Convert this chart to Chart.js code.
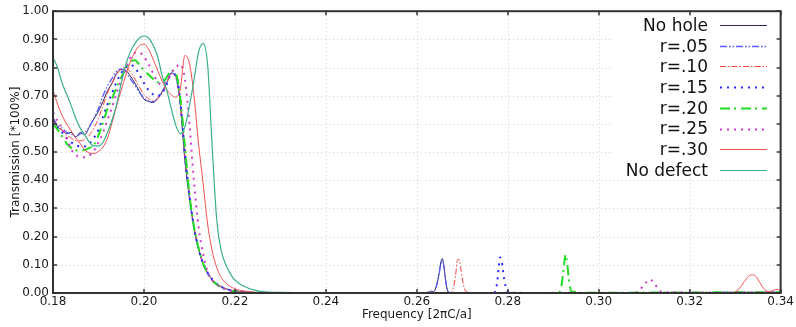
<!DOCTYPE html>
<html>
<head>
<meta charset="utf-8">
<script src="https://cdn.jsdelivr.net/npm/chart.js@4.4.1/dist/chart.umd.min.js"></script>
<style>
html,body{margin:0;padding:0;background:#fff;}
#c{display:block;}
</style>
</head>
<body>
<canvas id="c" width="796" height="327"></canvas>
<script>
// ---------- DATA ----------
const seriesLabels = ['No hole','r=.05','r=.10','r=.15','r=.20','r=.25','r=.30','No defect'];

const xTickValues = [0.18,0.20,0.22,0.24,0.26,0.28,0.30,0.32,0.34];
const xTickLabels = ['0.18','0.20','0.22','0.24','0.26','0.28','0.30','0.32','0.34'];
const yTickValues = [0,0.1,0.2,0.3,0.4,0.5,0.6,0.7,0.8,0.9,1.0];
const yTickLabels = ['0.00','0.10','0.20','0.30','0.40','0.50','0.60','0.70','0.80','0.90','1.00'];

// shared frequency grid for the band-edge region
const freqMain = [0.180,0.181,0.182,0.183,0.184,0.185,0.186,0.187,0.188,0.189,
                  0.190,0.191,0.192,0.193,0.194,0.195,0.196,0.197,0.198,0.199,
                  0.200,0.201,0.202,0.203,0.204,0.205,0.206,0.207,0.208,0.209,
                  0.210,0.211,0.212,0.213,0.214,0.215,0.216,0.217,0.218,0.219,
                  0.220,0.221,0.222,0.223,0.224,0.225,0.226];

const tNoHole  = [0.625,0.590,0.578,0.565,0.570,0.553,0.570,0.562,0.590,0.618,
                  0.645,0.680,0.718,0.745,0.780,0.793,0.790,0.770,0.745,0.715,
                  0.688,0.680,0.676,0.690,0.715,0.745,0.780,0.770,0.670,0.470,
                  0.340,0.230,0.155,0.104,0.070,0.048,0.032,0.022,0.015,0.010,
                  0.007,0.005,0.003,0.002,0.001,0.001,0.000];
const tR05     = [0.620,0.595,0.585,0.570,0.565,0.555,0.565,0.570,0.590,0.620,
                  0.655,0.700,0.735,0.762,0.788,0.795,0.782,0.760,0.737,0.712,
                  0.692,0.682,0.678,0.690,0.712,0.748,0.780,0.765,0.665,0.480,
                  0.340,0.232,0.157,0.105,0.071,0.048,0.032,0.022,0.015,0.010,
                  0.007,0.005,0.003,0.002,0.001,0.001,0.000];
const tR10     = [0.615,0.590,0.578,0.560,0.550,0.540,0.540,0.545,0.560,0.585,
                  0.620,0.665,0.710,0.745,0.775,0.795,0.800,0.785,0.760,0.730,
                  0.705,0.690,0.682,0.690,0.710,0.745,0.778,0.770,0.670,0.490,
                  0.345,0.235,0.158,0.106,0.072,0.049,0.033,0.022,0.015,0.010,
                  0.007,0.005,0.003,0.002,0.001,0.001,0.000];
const tR15     = [0.610,0.585,0.570,0.550,0.535,0.525,0.520,0.520,0.530,0.550,
                  0.580,0.625,0.670,0.710,0.750,0.780,0.800,0.810,0.800,0.775,
                  0.745,0.720,0.705,0.700,0.710,0.740,0.775,0.775,0.680,0.500,
                  0.345,0.235,0.158,0.106,0.072,0.049,0.033,0.022,0.015,0.010,
                  0.007,0.005,0.003,0.002,0.001,0.001,0.000];
const tR20     = [0.600,0.580,0.555,0.530,0.515,0.507,0.505,0.508,0.515,0.525,
                  0.560,0.605,0.655,0.690,0.730,0.765,0.795,0.820,0.826,0.810,
                  0.790,0.775,0.760,0.748,0.748,0.765,0.790,0.780,0.690,0.520,
                  0.350,0.235,0.160,0.105,0.070,0.045,0.030,0.020,0.012,0.008,
                  0.005,0.004,0.003,0.002,0.001,0.001,0.000];
const tR25     = [0.640,0.610,0.585,0.550,0.510,0.490,0.483,0.482,0.488,0.505,
                  0.535,0.570,0.615,0.660,0.710,0.755,0.795,0.835,0.852,0.853,
                  0.838,0.812,0.780,0.750,0.738,0.755,0.780,0.800,0.812,0.760,
                  0.600,0.395,0.235,0.140,0.075,0.045,0.030,0.020,0.013,0.008,
                  0.005,0.004,0.003,0.002,0.001,0.001,0.000];
const tR30     = [0.720,0.670,0.630,0.600,0.575,0.550,0.530,0.507,0.497,0.495,
                  0.503,0.518,0.550,0.605,0.665,0.720,0.772,0.820,0.855,0.878,
                  0.883,0.865,0.830,0.790,0.752,0.722,0.703,0.695,0.725,0.843,
                  0.815,0.700,0.530,0.390,0.245,0.150,0.090,0.055,0.035,0.023,
                  0.015,0.010,0.007,0.005,0.003,0.002,0.001];
const tNoDefect= [0.835,0.800,0.745,0.705,0.665,0.620,0.585,0.560,0.535,0.522,
                  0.522,0.535,0.570,0.615,0.670,0.745,0.810,0.855,0.885,0.905,
                  0.912,0.905,0.880,0.840,0.770,0.720,0.655,0.595,0.565,0.590,
                  0.665,0.755,0.855,0.885,0.810,0.520,0.260,0.150,0.100,0.068,
                  0.046,0.033,0.024,0.017,0.012,0.008,0.005];

// defect-mode peaks (tails beyond the band edge)
const fTailNoHole = [0.230,0.260,0.2628,0.2632,0.2636,0.2642,0.2648,0.2653,0.2656,0.2659,0.2663,0.2667,0.2672,0.270,0.300,0.340];
const tTailNoHole = [0.000,0.000,0.004,0.007,0.004,0.020,0.060,0.110,0.122,0.100,0.050,0.012,0.002,0.000,0.001,0.002];
const fTailR05 = [0.230,0.260,0.2635,0.2642,0.2648,0.2653,0.2656,0.2659,0.2663,0.2667,0.2672,0.270,0.300,0.340];
const tTailR05 = [0.000,0.000,0.004,0.018,0.058,0.105,0.118,0.098,0.048,0.012,0.002,0.000,0.001,0.002];
const fTailR10 = [0.230,0.265,0.2675,0.2680,0.2685,0.2689,0.2692,0.2696,0.2700,0.2705,0.2710,0.275,0.340];
const tTailR10 = [0.000,0.000,0.002,0.015,0.060,0.115,0.120,0.095,0.050,0.015,0.003,0.000,0.001];
const fTailR15 = [0.230,0.275,0.2770,0.2776,0.2780,0.2783,0.2787,0.2792,0.2798,0.2805,0.290,0.340];
const tTailR15 = [0.000,0.000,0.002,0.030,0.090,0.126,0.110,0.050,0.010,0.001,0.000,0.001];
const fTailR20 = [0.230,0.289,0.2912,0.2918,0.2923,0.2927,0.2931,0.2935,0.2940,0.2948,0.2955,0.320,0.340];
const tTailR20 = [0.000,0.000,0.002,0.025,0.090,0.135,0.100,0.040,0.005,0.004,0.001,0.002,0.003];
const fTailR25 = [0.230,0.305,0.3085,0.3093,0.3103,0.3113,0.3123,0.3132,0.3140,0.3155,0.320,0.340];
const tTailR25 = [0.000,0.000,0.002,0.016,0.036,0.048,0.032,0.013,0.003,0.003,0.001,0.002];
const fTailR30 = [0.230,0.320,0.3290,0.3302,0.3310,0.3320,0.3330,0.3338,0.3346,0.3355,0.3365,0.3375,0.3385,0.3392,0.3400];
const tTailR30 = [0.000,0.000,0.001,0.005,0.018,0.040,0.060,0.065,0.058,0.035,0.012,0.005,0.010,0.013,0.009];
const fTailNoDefect = [0.230,0.240,0.260,0.340];
const tTailNoDefect = [0.002,0.001,0.000,0.000];

// ---------- BUILD ----------
function pts(mainVals, tf, tv){
  const out = freqMain.map((f,i)=>({x:f,y:mainVals[i]}));
  tf.forEach((f,i)=>out.push({x:f,y:tv[i]}));
  return out;
}
const styles = [
  {c:'#262660', w:1,   d:[]},
  {c:'#5a5aff', w:1.3, d:[7,2,1.5,2,1.5,2]},
  {c:'#ff4040', w:1,   d:[6,2,1.5,2]},
  {c:'#2a2aff', w:2,   d:[2,5]},
  {c:'#22dd22', w:2,   d:[10,4,2,5]},
  {c:'#cc3ccc', w:2,   d:[2,5]},
  {c:'#f05050', w:1,   d:[]},
  {c:'#3cb08e', w:1.2, d:[]}
];
const allData = [
  pts(tNoHole, fTailNoHole, tTailNoHole),
  pts(tR05, fTailR05, tTailR05),
  pts(tR10, fTailR10, tTailR10),
  pts(tR15, fTailR15, tTailR15),
  pts(tR20, fTailR20, tTailR20),
  pts(tR25, fTailR25, tTailR25),
  pts(tR30, fTailR30, tTailR30),
  pts(tNoDefect, fTailNoDefect, tTailNoDefect)
];
const datasets = seriesLabels.map((lab,i)=>({
  label: lab,
  data: allData[i],
  borderColor: styles[i].c,
  borderWidth: styles[i].w,
  borderDash: styles[i].d,
  pointRadius: 0,
  fill: false,
  cubicInterpolationMode: 'monotone',
  order: 7 - i
}));

const FONT = "'DejaVu Sans', sans-serif";

const framePlugin = {
  id: 'frame',
  beforeDatasetsDraw(chart){
    const {ctx, chartArea:a, scales:{x,y}} = chart;
    ctx.save();
    ctx.strokeStyle = '#cfcfcf';
    ctx.lineWidth = 1;
    ctx.setLineDash([1,3]);
    xTickValues.forEach(v=>{
      const px = Math.round(x.getPixelForValue(v)) + 0.5;
      if (px > a.left + 2 && px < a.right - 2){
        ctx.beginPath(); ctx.moveTo(px, a.top); ctx.lineTo(px, a.bottom); ctx.stroke();
      }
    });
    yTickValues.forEach(v=>{
      const py = Math.round(y.getPixelForValue(v)) + 0.5;
      if (py > a.top + 2 && py < a.bottom - 2){
        ctx.beginPath(); ctx.moveTo(a.left, py); ctx.lineTo(a.right, py); ctx.stroke();
      }
    });
    ctx.restore();
  },
  afterDatasetsDraw(chart){
    const {ctx, chartArea:a, scales:{x,y}} = chart;
    ctx.save();
    // legend box (opaque)
    ctx.fillStyle = '#fff';
    ctx.fillRect(612, 16, a.right - 612 - 2, 162);
    ctx.font = "17px " + FONT;
    ctx.textAlign = 'right';
    ctx.textBaseline = 'middle';
    chart.data.datasets.forEach((ds,i)=>{
      const yy = 25 + i*20.7;
      ctx.fillStyle = '#111';
      ctx.fillText(ds.label, 708, yy + 1.5);
      ctx.strokeStyle = ds.borderColor;
      ctx.lineWidth = ds.borderWidth;
      ctx.setLineDash(ds.borderDash);
      ctx.beginPath(); ctx.moveTo(720, Math.round(yy)+0.5); ctx.lineTo(767, Math.round(yy)+0.5); ctx.stroke();
    });
    ctx.setLineDash([]);
    // frame
    ctx.strokeStyle = '#333';
    ctx.lineWidth = 2;
    ctx.strokeRect(a.left, a.top, a.right - a.left, a.bottom - a.top);
    // inward ticks
    ctx.lineWidth = 1.5;
    xTickValues.forEach(v=>{
      const px = Math.round(x.getPixelForValue(v));
      ctx.beginPath(); ctx.moveTo(px, a.bottom); ctx.lineTo(px, a.bottom - 4); ctx.stroke();
      ctx.beginPath(); ctx.moveTo(px, a.top); ctx.lineTo(px, a.top + 4); ctx.stroke();
    });
    yTickValues.forEach(v=>{
      const py = Math.round(y.getPixelForValue(v));
      ctx.beginPath(); ctx.moveTo(a.left, py); ctx.lineTo(a.left + 4, py); ctx.stroke();
      ctx.beginPath(); ctx.moveTo(a.right, py); ctx.lineTo(a.right - 4, py); ctx.stroke();
    });
    ctx.restore();
  }
};

new Chart(document.getElementById('c'), {
  type: 'line',
  data: { datasets },
  options: {
    responsive: false,
    animation: false,
    devicePixelRatio: 1,
    layout: { padding: { top: 11, right: 13, left: 0, bottom: 0 } },
    plugins: { legend: { display: false }, tooltip: { enabled: false } },
    scales: {
      x: {
        type: 'linear', min: 0.18, max: 0.34,
        afterBuildTicks: s => { s.ticks = xTickValues.map(v=>({value:v})); },
        afterFit: s => { s.height = 34; },
        ticks: {
          callback: (v) => xTickLabels[xTickValues.findIndex(t=>Math.abs(t-v)<1e-9)],
          font: { family: FONT, size: 12 }, color: '#1a1a1a',
          padding: 2, maxRotation: 0, autoSkip: false
        },
        grid: { display: false, drawTicks: false },
        border: { display: false },
        title: { display: true, text: 'Frequency [2πC/a]', font: { family: FONT, size: 12 }, color: '#1a1a1a', padding: { top: 0, bottom: 5 } }
      },
      y: {
        type: 'linear', min: 0, max: 1,
        afterBuildTicks: s => { s.ticks = yTickValues.map(v=>({value:v})); },
        afterFit: s => { s.width = 53; },
        ticks: {
          callback: (v) => yTickLabels[yTickValues.findIndex(t=>Math.abs(t-v)<1e-9)],
          font: { family: FONT, size: 12 }, color: '#1a1a1a',
          padding: 4, autoSkip: false
        },
        grid: { display: false, drawTicks: false },
        border: { display: false },
        title: { display: true, text: 'Transmission [*100%]', font: { family: FONT, size: 12 }, color: '#1a1a1a', padding: { top: 9, bottom: 0 } }
      }
    }
  },
  plugins: [framePlugin]
});
</script>
</body>
</html>
